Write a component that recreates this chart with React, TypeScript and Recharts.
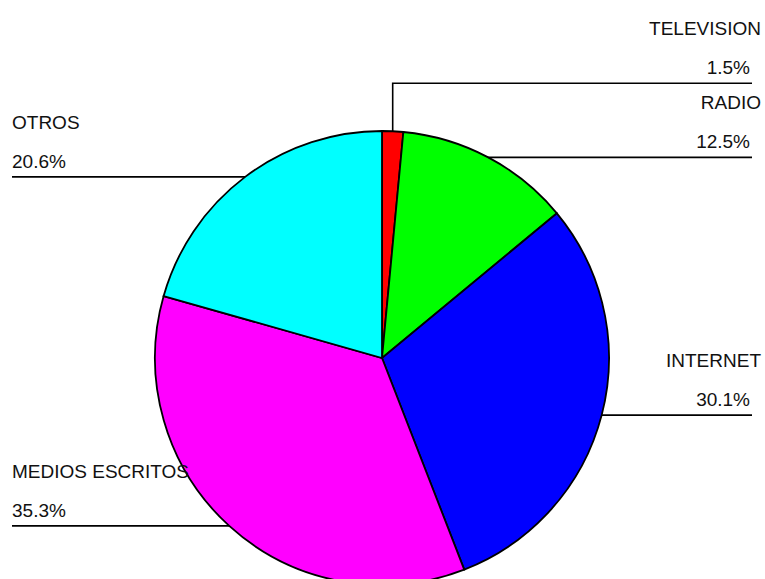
import React from "react";
import { PieChart, Pie, Cell } from "recharts";

const categories = ["TELEVISION", "RADIO", "INTERNET", "MEDIOS ESCRITOS", "OTROS"];
const shares = [1.5, 12.5, 30.1, 35.3, 20.6];
const colors = ["#ff0000", "#00ff00", "#0000ff", "#ff00ff", "#00ffff"];

const data = categories.map((name, i) => ({ name, value: shares[i] }));

const FONT = "'Liberation Sans', Arial, Helvetica, sans-serif";

const renderLabel = (props: any) => {
  const { cx, cy, midAngle, outerRadius, name, value, index } = props;
  const rad = Math.PI / 180;
  const ex = cx + outerRadius * Math.cos(-midAngle * rad);
  const ey = cy + outerRadius * Math.sin(-midAngle * rad);
  const right = ex >= cx;
  const nearTop = ey < cy - outerRadius * 0.95;
  const ly = nearTop ? ey - 48 : ey;
  const end = right ? 752 : 12;
  const d = nearTop ? `M${ex},${ey}V${ly}H${end}` : `M${ex},${ly}H${end}`;
  return (
    <g key={`lbl-${index}`}>
      <path d={d} stroke="#000" strokeWidth={1.6} fill="none" />
      <text
        x={right ? 761 : 12}
        y={ly - 48}
        textAnchor={right ? "end" : "start"}
        fontFamily={FONT}
        fontSize={19}
        fill="#111"
      >
        {name}
      </text>
      <text
        x={right ? 750 : 12}
        y={ly - 9}
        textAnchor={right ? "end" : "start"}
        fontFamily={FONT}
        fontSize={19}
        fill="#111"
      >
        {`${Number(value).toFixed(1)}%`}
      </text>
    </g>
  );
};

export default function App() {
  return (
    <div style={{ position: "absolute", left: 0, top: 0, width: 765, height: 579, background: "#fff" }}>
      <PieChart width={765} height={579} margin={{ top: 0, right: 0, bottom: 0, left: 0 }}>
        <Pie
          data={data}
          dataKey="value"
          nameKey="name"
          cx={382}
          cy={358}
          outerRadius={227}
          startAngle={90}
          endAngle={-270}
          stroke="#000"
          strokeWidth={1.8}
          isAnimationActive={false}
          label={renderLabel}
          labelLine={false}
        >
          {data.map((d, i) => (
            <Cell key={d.name} fill={colors[i]} />
          ))}
        </Pie>
      </PieChart>
    </div>
  );
}
